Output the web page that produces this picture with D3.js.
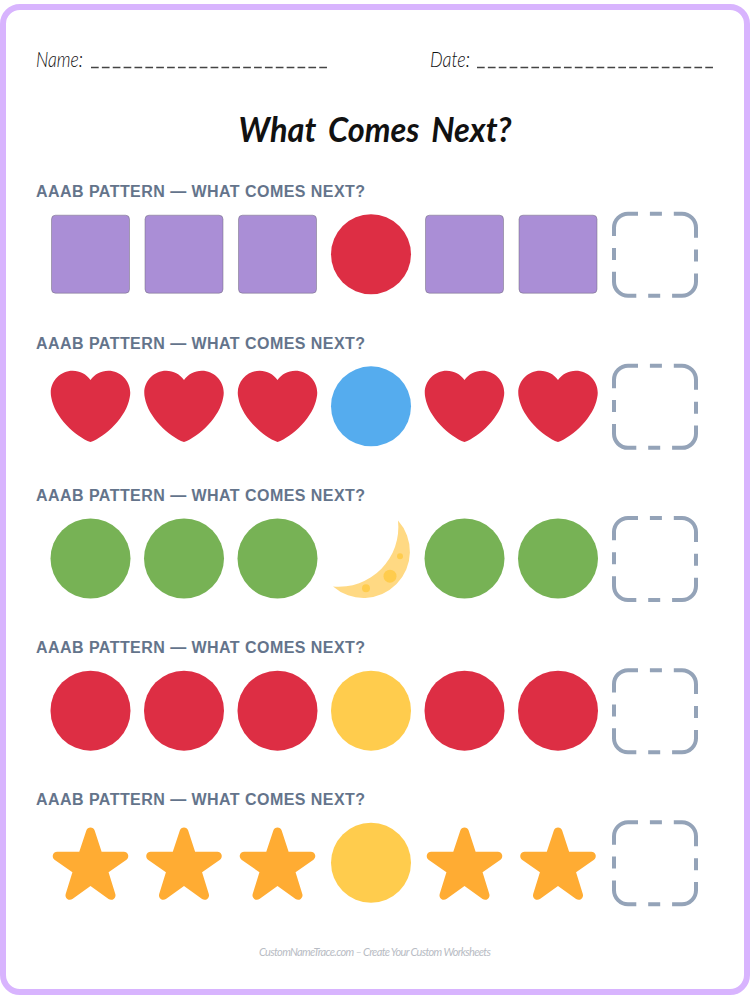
<!DOCTYPE html>
<html>
<head>
<meta charset="utf-8">
<script src="https://cdn.jsdelivr.net/npm/d3@7"></script>
<style>
  html, body { margin: 0; padding: 0; background: #fff; }
  svg { display: block; }
</style>
</head>
<body>
<div id="sheet"></div>
<script>
const width = 750;
const height = 1000;

// worksheet content
const headerLabels = ["Name:", "Date:"];
const title = "What Comes Next?";
const rowLabel = "AAAB PATTERN \u2014 WHAT COMES NEXT?";
const footer = "CustomNameTrace.com \u2013 Create Your Custom Worksheets";

const rowA = ["square", "heart", "green", "red", "star"];
const rowB = ["redCircle", "blue", "moon", "yellow", "yellow"];
const pattern = ["A", "A", "A", "B", "A", "A"];
const rowIndex = [0, 1, 2, 3, 4];

const colors = {
  red: "#DD2E44", blue: "#55ACEE", green: "#77B255",
  yellow: "#FFCC4D", orange: "#FFAC33", purple: "#AA8ED6",
  moon: "#FFD983", slate: "#94A3B8", label: "#64748B", frame: "#D8B4FE"
};

const svg = d3.select("#sheet").append("svg")
  .attr("width", width)
  .attr("height", height);

svg.append("rect")
  .attr("x", 3).attr("y", 7)
  .attr("width", 744).attr("height", 985)
  .attr("rx", 17)
  .attr("fill", "#fff")
  .attr("stroke", colors.frame)
  .attr("stroke-width", 6);

const script = "Lato";

// name and date lines
const header = svg.append("g");
header.selectAll("text")
  .data(headerLabels)
  .enter().append("text")
  .attr("x", (d, i) => i ? 430 : 36)
  .attr("y", 67)
  .attr("font-family", script)
  .attr("font-style", "italic")
  .attr("font-weight", 300)
  .attr("font-size", 22)
  .attr("fill", "#111")
  .attr("textLength", (d, i) => i ? 40 : 47)
  .attr("lengthAdjust", "spacingAndGlyphs")
  .text(d => d);

header.selectAll("line")
  .data(headerLabels)
  .enter().append("line")
  .attr("x1", (d, i) => i ? 477 : 91)
  .attr("x2", (d, i) => i ? 713 : 327)
  .attr("y1", 67.5).attr("y2", 67.5)
  .attr("stroke", "#444")
  .attr("stroke-width", 1.3)
  .attr("stroke-dasharray", "7.7 3.17");

svg.append("text")
  .attr("x", 375)
  .attr("y", 142)
  .attr("text-anchor", "middle")
  .attr("font-family", script)
  .attr("font-style", "italic")
  .attr("font-weight", 700)
  .attr("font-size", 35)
  .attr("word-spacing", 5)
  .attr("fill", "#111")
  .attr("textLength", 273)
  .attr("lengthAdjust", "spacingAndGlyphs")
  .text(title);

// layout
const x = d3.scalePoint().domain(d3.range(6)).range([90.5, 558]);
const y = d3.scaleLinear().domain([0, 4]).range([254.2, 862.8]);
const labelY = d3.scaleLinear().domain([0, 4]).range([196.5, 804.5]);
const boxX = 655;
const emoji = 80 / 36; // glyphs are drawn on a 36 unit grid

const heartPath = "M35.885 11.833c0-5.45-4.418-9.868-9.867-9.868-3.308 0-6.227 1.633-8.018 4.129-1.791-2.496-4.71-4.129-8.017-4.129-5.45 0-9.868 4.417-9.868 9.868 0 .772.098 1.52.266 2.241C1.751 22.587 11.216 31.568 18 34.034c6.783-2.466 16.249-11.447 17.617-19.959.17-.721.268-1.469.268-2.242z";
const starPath = "M27.287 34.627c-.404 0-.806-.124-1.152-.371L18 28.422l-8.135 5.834c-.693.496-1.623.496-2.312-.008-.689-.499-.979-1.385-.721-2.194l3.034-9.792-8.062-5.681c-.685-.505-.97-1.393-.708-2.203.264-.808 1.016-1.357 1.866-1.363L12.947 13l3.179-9.549c.268-.809 1.023-1.353 1.874-1.353.851 0 1.606.545 1.875 1.353L23 13l10.036.015c.853.006 1.606.556 1.867 1.363.263.81-.022 1.698-.708 2.203l-8.062 5.681 3.034 9.792c.26.809-.033 1.695-.72 2.194-.347.254-.753.379-1.16.379z";

function circle(g, fill) {
  g.append("circle").attr("r", 40).attr("fill", fill);
}

function glyph(g, d, fill) {
  g.append("path")
    .attr("d", d)
    .attr("fill", fill)
    .attr("transform", `scale(${emoji}) translate(-18,-18)`);
}

const draw = {
  square: g => g.append("rect")
    .attr("x", -39).attr("y", -39)
    .attr("width", 78).attr("height", 78)
    .attr("rx", 4)
    .attr("fill", colors.purple)
    .attr("stroke", "#6f6a7a")
    .attr("stroke-width", 0.5),
  heart: g => glyph(g, heartPath, colors.red),
  star: g => glyph(g, starPath, colors.orange),
  green: g => circle(g, colors.green),
  red: g => circle(g, colors.red),
  redCircle: g => circle(g, colors.red),
  blue: g => circle(g, colors.blue),
  yellow: g => circle(g, colors.yellow),
  moon: g => {
    g.append("path")
      .attr("d", "M27 -38 A46.4 46.4 0 0 1 -38 28 A59.7 59.7 0 0 0 27 -38 Z")
      .attr("fill", colors.moon);
    g.selectAll("circle")
      .data([[19, 17.7, 6.5], [-5, 29.7, 4], [29, -2.3, 3]])
      .enter().append("circle")
      .attr("cx", d => d[0]).attr("cy", d => d[1]).attr("r", d => d[2])
      .attr("fill", colors.yellow);
  }
};

const rows = svg.selectAll(".row")
  .data(rowIndex)
  .enter().append("g")
  .attr("class", "row");

rows.append("text")
  .attr("x", 36)
  .attr("y", d => labelY(d))
  .attr("font-family", "Liberation Sans")
  .attr("font-weight", 700)
  .attr("font-size", 16)
  .attr("letter-spacing", 0.45)
  .attr("fill", colors.label)
  .text(rowLabel);

rows.each(function(r) {
  const row = d3.select(this);
  pattern.forEach((p, i) => {
    const cell = row.append("g")
      .attr("transform", `translate(${x(i)},${y(r)})`);
    draw[p === "A" ? rowA[r] : rowB[r]](cell);
  });
  // empty answer box
  row.append("rect")
    .attr("x", boxX - 41).attr("y", y(r) - 40.5)
    .attr("width", 82).attr("height", 82)
    .attr("rx", 14)
    .attr("fill", "none")
    .attr("stroke", colors.slate)
    .attr("stroke-width", 4)
    .attr("stroke-dasharray", "40 11.9 12 11.9")
    .attr("stroke-dashoffset", 30);
});

svg.append("text")
  .attr("x", 375)
  .attr("y", 956)
  .attr("text-anchor", "middle")
  .attr("font-family", script)
  .attr("font-style", "italic")
  .attr("font-weight", 400)
  .attr("font-size", 11)
  .attr("fill", "#b8bcc4")
  .attr("textLength", 232)
  .text(footer);
</script>
</body>
</html>
